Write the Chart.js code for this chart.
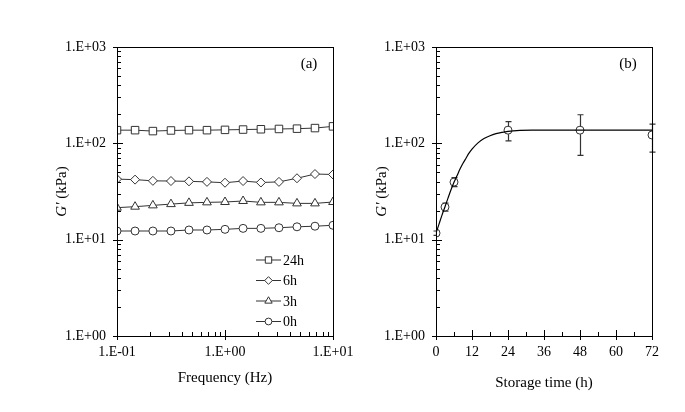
<!DOCTYPE html>
<html>
<head>
<meta charset="utf-8">
<script src="https://cdn.jsdelivr.net/npm/chart.js@4.4.1/dist/chart.umd.min.js"></script>
<style>
  body { margin: 0; background: #fff; }
  #wrap { position: relative; width: 685px; height: 412px; }
  canvas { position: absolute; left: 0; top: 0; }
</style>
</head>
<body>
<div id="wrap">
  <canvas id="chart1" width="685" height="412"></canvas>
  <canvas id="chart2" width="685" height="412"></canvas>
</div>
<script>
// panel (a): G' vs frequency
var frequency = [0.1, 0.147, 0.215, 0.316, 0.464, 0.681, 1, 1.47, 2.15, 3.16, 4.64, 6.81, 10];
var g24h = [137, 137, 134, 136, 137, 137, 138, 139, 140, 141, 142, 144, 150];
var g6h = [42.5, 42, 40.8, 40.6, 40.3, 39.8, 39, 40.6, 39.2, 39.8, 43.4, 48, 47.5];
var g3h = [21.5, 22, 22.7, 23.4, 24.1, 24.4, 24.6, 25.2, 24.4, 24.4, 23.8, 23.8, 24.6];
var g0h = [12.3, 12.3, 12.3, 12.3, 12.6, 12.6, 12.8, 13.1, 13.1, 13.3, 13.6, 13.8, 14.1];

// panel (b): G' vs storage time
var storageTime = [0, 3, 6, 24, 48, 72];
var gStorage = [11.7, 21.8, 39.6, 137, 137, 122];
var gStorageLow = [11.1, 19.8, 35.5, 106, 75, 81];
var gStorageHigh = [12.3, 24, 44, 168, 198, 158];
var fitTime = [0, 1, 2, 3, 4, 5, 6, 7, 8, 9, 10, 11, 12, 14, 16, 18, 20, 22, 24, 28, 32, 40, 48, 60, 72];
var fitValues = [11.7, 14.5, 18, 22, 27, 33, 39.5, 46, 54, 62, 70, 79, 87, 101, 112, 120, 126, 130, 133, 136, 137, 137, 137, 137, 137];

var yTicks = [1, 10, 100, 1000];
var freqTicks = [0.1, 1, 10];
var timeTicks = [0, 12, 24, 36, 48, 60, 72];

var FONT = '"Liberation Serif", "Times New Roman", serif';
var LINE = '#333';

function pts(xs, ys) {
    return xs.map(function(x, i) { return {x: x, y: ys[i]}; });
}

function sciLabel(v) {
    var e = Math.round(Math.log10(v));
    var s = Math.abs(e) < 10 ? '0' + Math.abs(e) : '' + Math.abs(e);
    return '1.E' + (e < 0 ? '-' : '+') + s;
}

function logTickValues(min, max) {
    var out = [];
    for (var e = Math.round(Math.log10(min)); e < Math.round(Math.log10(max)); e++) {
        for (var m = 1; m < 10; m++) out.push({v: m * Math.pow(10, e), major: m === 1});
    }
    out.push({v: max, major: true});
    return out;
}

function drawTicks(ctx, chart, axis, list) {
    var a = chart.chartArea;
    ctx.beginPath();
    list.forEach(function(t) {
        if (axis === 'y') {
            var p = Math.round(chart.scales.y.getPixelForValue(t.v)) + 0.5;
            ctx.moveTo(a.left - (t.major ? 4 : 0), p);
            ctx.lineTo(a.left + (t.major ? 6 : 4), p);
        } else {
            var q = Math.round(chart.scales.x.getPixelForValue(t.v)) + 0.5;
            ctx.moveTo(q, a.bottom + (t.major ? 4 : 0));
            ctx.lineTo(q, a.bottom - (t.major ? 6 : 4));
        }
    });
    ctx.stroke();
}

function yTitle(ctx, x, y) {
    ctx.save();
    ctx.translate(x, y);
    ctx.rotate(-Math.PI / 2);
    ctx.fillStyle = '#000';
    ctx.textBaseline = 'middle';
    ctx.font = 'italic 15px ' + FONT;
    var a = 'G\u2032';
    var wa = ctx.measureText(a).width;
    ctx.font = '15px ' + FONT;
    var b = ' (kPa)';
    var wb = ctx.measureText(b).width;
    var x0 = -(wa + wb) / 2;
    ctx.font = 'italic 15px ' + FONT;
    ctx.textAlign = 'left';
    ctx.fillText(a, x0, 0);
    ctx.font = '15px ' + FONT;
    ctx.fillText(b, x0 + wa, 0);
    ctx.restore();
}

function decor(cfg) {
    return {
        id: 'decor' + cfg.tag,
        beforeDatasetsDraw: function(chart) {
            if (!cfg.errors) return;
            var ctx = chart.ctx;
            ctx.save();
            ctx.strokeStyle = LINE;
            ctx.lineWidth = 1.2;
            storageTime.forEach(function(t, i) {
                var x = Math.round(chart.scales.x.getPixelForValue(t)) + 0.5;
                var y1 = chart.scales.y.getPixelForValue(gStorageLow[i]);
                var y2 = chart.scales.y.getPixelForValue(gStorageHigh[i]);
                ctx.beginPath();
                ctx.moveTo(x, y1); ctx.lineTo(x, y2);
                ctx.moveTo(x - 3, y1); ctx.lineTo(x + 3, y1);
                ctx.moveTo(x - 3, y2); ctx.lineTo(x + 3, y2);
                ctx.stroke();
            });
            ctx.restore();
        },
        afterDraw: function(chart) {
            var ctx = chart.ctx, a = chart.chartArea;
            ctx.save();
            ctx.strokeStyle = '#000';
            ctx.lineWidth = 1;
            // box
            ctx.strokeRect(Math.round(a.left) + 0.5, Math.round(a.top) + 0.5,
                Math.round(a.right - a.left), Math.round(a.bottom - a.top));
            drawTicks(ctx, chart, 'y', logTickValues(1, 1000));
            drawTicks(ctx, chart, 'x', cfg.xTickList);
            // titles
            ctx.fillStyle = '#000';
            ctx.font = '15px ' + FONT;
            ctx.textAlign = 'center';
            ctx.textBaseline = 'middle';
            ctx.fillText(cfg.xTitle, (a.left + a.right) / 2, cfg.xTitleY);
            ctx.fillText(cfg.tag, a.right - 24, a.top + 17);
            yTitle(ctx, cfg.yTitleX, (a.top + a.bottom) / 2);
            // legend
            if (cfg.legend) {
                var ly = 260;
                ctx.font = '14px ' + FONT;
                chart.data.datasets.forEach(function(ds) {
                    ctx.strokeStyle = LINE;
                    ctx.lineWidth = 1;
                    ctx.beginPath();
                    ctx.moveTo(256, ly); ctx.lineTo(281, ly);
                    ctx.stroke();
                    ctx.fillStyle = '#fff';
                    ctx.strokeStyle = LINE;
                    Chart.helpers.drawPoint(ctx, {pointStyle: ds.pointStyle, radius: ds.pointRadius * 0.85, rotation: 0, borderWidth: 1}, 268.5, ly);
                    ctx.fillStyle = '#000';
                    ctx.textAlign = 'left';
                    ctx.fillText(ds.label, 283, ly + 1);
                    ly += 20.5;
                });
            }
            ctx.restore();
        }
    };
}

function lineSet(label, ys, style, r) {
    return {
        label: label,
        data: pts(frequency, ys),
        borderColor: LINE,
        borderWidth: 1,
        pointStyle: style,
        pointRadius: r,
        pointBorderWidth: 1,
        pointBackgroundColor: '#fff',
        pointBorderColor: LINE,
        fill: false
    };
}

var yAxis = function(width) {
    return {
        type: 'logarithmic',
        min: 1, max: 1000,
        grid: {display: false, drawTicks: false},
        border: {display: false},
        afterBuildTicks: function(s) { s.ticks = yTicks.map(function(v) { return {value: v}; }); },
        afterFit: function(s) { s.width = width; },
        ticks: {
            callback: function(v) { return sciLabel(v); },
            color: '#000', padding: 11,
            font: {family: FONT, size: 14}
        }
    };
};

new Chart(document.getElementById('chart1').getContext('2d'), {
    type: 'line',
    data: {
        datasets: [
            lineSet('24h', g24h, 'rect', 5.3),
            lineSet('6h', g6h, 'rectRot', 4.5),
            lineSet('3h', g3h, 'triangle', 5),
            lineSet('0h', g0h, 'circle', 4)
        ]
    },
    options: {
        responsive: false,
        animation: false,
        layout: {padding: {top: 47, right: 685 - 333, left: 0, bottom: 0}},
        plugins: {legend: {display: false}, tooltip: {enabled: false}},
        scales: {
            x: {
                type: 'logarithmic',
                min: 0.1, max: 10,
                grid: {display: false, drawTicks: false},
                border: {display: false},
                afterBuildTicks: function(s) { s.ticks = freqTicks.map(function(v) { return {value: v}; }); },
                afterFit: function(s) { s.height = 412 - 336; },
                ticks: {
                    callback: function(v) { return sciLabel(v); },
                    color: '#000', padding: 8, maxRotation: 0,
                    font: {family: FONT, size: 14}
                }
            },
            y: yAxis(117)
        }
    },
    plugins: [decor({tag: '(a)', xTitle: 'Frequency (Hz)', xTitleY: 378, yTitleX: 62,
        xTickList: logTickValues(0.1, 10), legend: true})]
});

var timeMinor = [];
for (var t = 0; t <= 72; t += 6) timeMinor.push({v: t, major: t % 12 === 0});

new Chart(document.getElementById('chart2').getContext('2d'), {
    type: 'line',
    data: {
        datasets: [
            {
                label: 'fit',
                data: pts(fitTime, fitValues),
                borderColor: '#000',
                borderWidth: 1.2,
                pointRadius: 0,
                cubicInterpolationMode: 'monotone',
                fill: false
            },
            {
                label: 'G',
                data: pts(storageTime, gStorage),
                showLine: false,
                pointStyle: 'circle',
                pointRadius: 4,
                pointBorderWidth: 1,
                pointBackgroundColor: '#fff',
                pointBorderColor: LINE
            }
        ]
    },
    options: {
        responsive: false,
        animation: false,
        layout: {padding: {top: 47, right: 685 - 652, left: 0, bottom: 0}},
        plugins: {legend: {display: false}, tooltip: {enabled: false}},
        scales: {
            x: {
                type: 'linear',
                min: 0, max: 72,
                grid: {display: false, drawTicks: false},
                border: {display: false},
                afterBuildTicks: function(s) { s.ticks = timeTicks.map(function(v) { return {value: v}; }); },
                afterFit: function(s) { s.height = 412 - 336; },
                ticks: {
                    color: '#000', padding: 8, maxRotation: 0,
                    font: {family: FONT, size: 14}
                }
            },
            y: yAxis(436)
        }
    },
    plugins: [decor({tag: '(b)', xTitle: 'Storage time (h)', xTitleY: 383, yTitleX: 382,
        xTickList: timeMinor, errors: true})]
});
</script>
</body>
</html>
